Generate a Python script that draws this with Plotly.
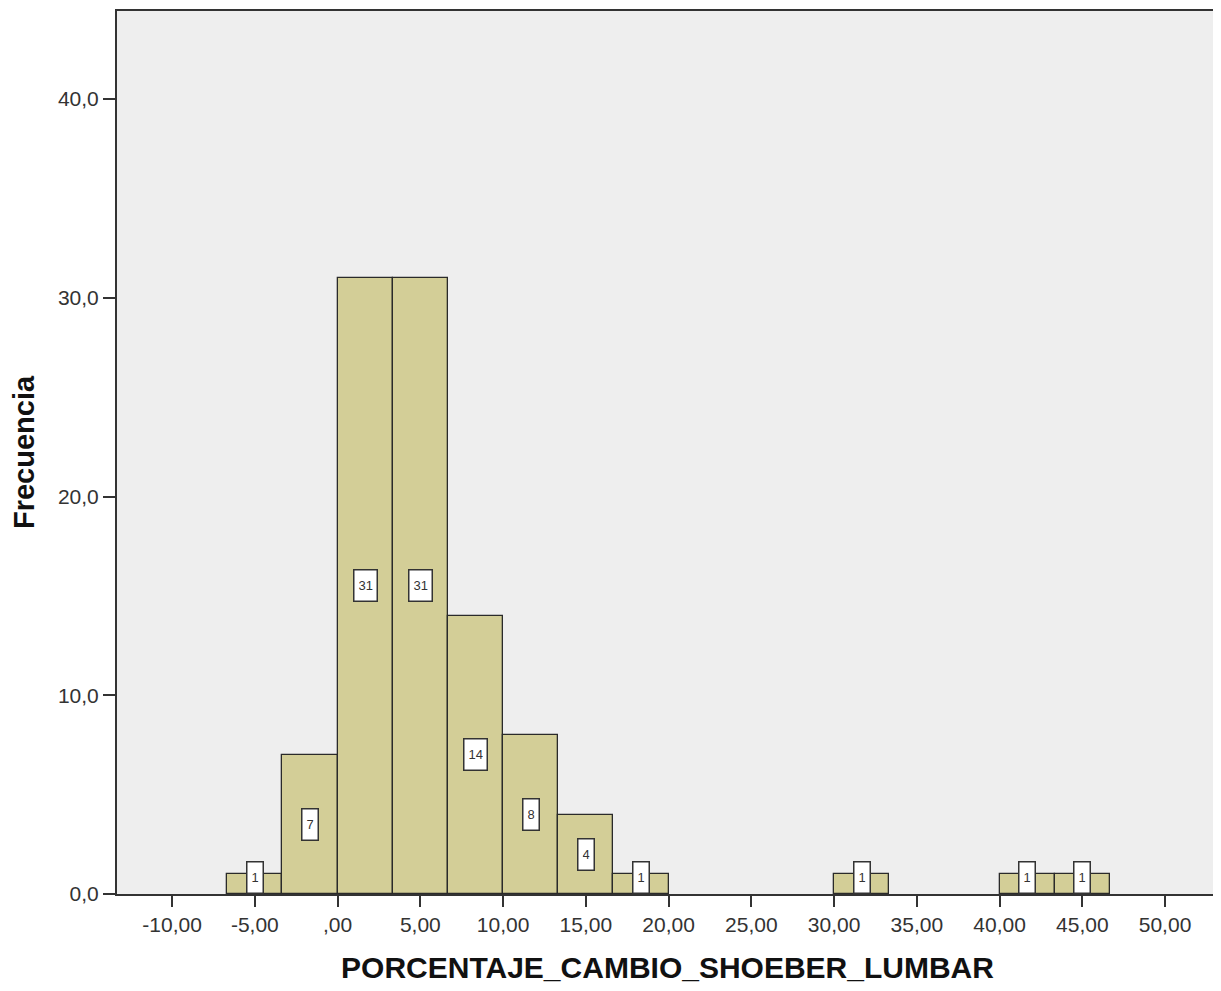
import plotly.graph_objects as go

# ---- data ----
bin_start = -20 / 3
bin_width = 10 / 3
counts = [1, 7, 31, 31, 14, 8, 4, 1, 0, 0, 0, 1, 0, 0, 1, 1]
x_tickvals = [-10, -5, 0, 5, 10, 15, 20, 25, 30, 35, 40, 45, 50]
x_ticktext = ["-10,00", "-5,00", ",00", "5,00", "10,00", "15,00", "20,00", "25,00",
              "30,00", "35,00", "40,00", "45,00", "50,00"]
y_tickvals = [0, 10, 20, 30, 40]
y_ticktext = ["0,0", "10,0", "20,0", "30,0", "40,0"]
x_title = "PORCENTAJE_CAMBIO_SHOEBER_LUMBAR"
y_title = "Frecuencia"

centers = [bin_start + bin_width * (i + 0.5) for i in range(len(counts))]
nz = [(cx, c) for cx, c in zip(centers, counts) if c > 0]

fig = go.Figure()
fig.add_trace(go.Bar(
    x=[p[0] for p in nz], y=[p[1] for p in nz], width=[bin_width] * len(nz),
    marker=dict(color="#D3CE97", line=dict(color="#2a2a2a", width=1.3)),
    hoverinfo="skip",
))

annotations = []
for cx, c in nz:
    small = c / 2 < 0.8
    annotations.append(dict(
        x=cx, y=0 if small else c / 2, xref="x", yref="y",
        yanchor="bottom" if small else "middle",
        text=str(c), showarrow=False,
        font=dict(family="Liberation Sans, Arial", size=13, color="#333"),
        bgcolor="white", bordercolor="#333", borderwidth=1.5, borderpad=4,
        height=22,
    ))

fig.update_layout(
    width=1213, height=983,
    margin=dict(l=109, r=3, t=3, b=97, autoexpand=False),
    paper_bgcolor="white", plot_bgcolor="#EEEEEE",
    showlegend=False, bargap=0,
    font=dict(family="Liberation Sans, Arial", color="#222"),
    annotations=annotations,
    xaxis=dict(
        range=[-13.33, 53.2], tickvals=x_tickvals, ticktext=x_ticktext,
        ticks="outside", ticklen=11, tickwidth=2, tickcolor="#333",
        showgrid=False, zeroline=False, showline=True, linecolor="#333",
        linewidth=2, mirror=True, tickfont=dict(size=21, color="#333"),
        automargin=False,
        title=dict(text="<b>" + x_title + "</b>", font=dict(size=30, color="#111"),
                   standoff=22),
    ),
    yaxis=dict(
        range=[0, 44.43], tickvals=y_tickvals, ticktext=y_ticktext,
        ticks="outside", ticklen=12, tickwidth=2, tickcolor="#333",
        showgrid=False, zeroline=False, showline=True, linecolor="#333",
        linewidth=2, mirror=True, tickfont=dict(size=21, color="#333"),
        automargin=False,
        title=dict(text="<b>" + y_title + "</b>", font=dict(size=29, color="#111"),
                   standoff=18),
    ),
)

fig.write_html("out.html")
